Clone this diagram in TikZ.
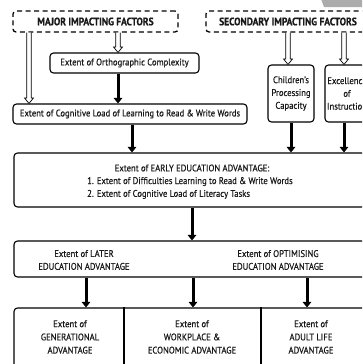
\documentclass[tikz,border=0pt]{standalone}
\usepackage{fontspec}
\setmainfont{PT Sans}[FakeStretch=0.9,FakeBold=0.5]
\newfontfamily\hdfont{PT Sans Bold}[FakeStretch=0.88,FakeBold=0.6]
\usetikzlibrary{arrows.meta,calc}
\begin{document}
\begin{tikzpicture}[x=1pt,y=-1pt,
  every node/.style={font=\fontsize{9.6}{12.8}\selectfont, text=black!90, inner sep=0pt},
  box/.style={draw, line width=1.1pt, rounded corners=3.5pt, align=center},
  dbox/.style={draw, line width=1.3pt, dash pattern=on 5pt off 3.5pt, rounded corners=3pt, font=\fontsize{10.8}{12}\hdfont},
  blk/.style={line width=3pt, -{Triangle[length=5.5pt,width=8.5pt]}},
  hollow/.style={line width=0.7pt, fill=white, to path={let \p1=(\tikztostart), \p2=(\tikztotarget) in
     (\x1-2.2pt,\y1) -- (\x1-2.2pt,\y2+5.5pt) -- (\x1-4.5pt,\y2+5.5pt) -- (\x1,\y2) -- (\x1+4.5pt,\y2+5.5pt) -- (\x1+2.2pt,\y2+5.5pt) -- (\x1+2.2pt,\y1)}}
]
\useasboundingbox (0,0) rectangle (362,364);
\clip (0,0) rectangle (362,364);
\fill[gray!65] (321,-1) -- (324,7) -- (363,7) -- (363,-1) -- cycle;

\node[dbox, minimum width=165pt, minimum height=21pt] (major) at (95.5,21.5) {MAJOR IMPACTING FACTORS};
\node[dbox, minimum width=164pt, minimum height=21pt] (second) at (288,21.5) {SECONDARY IMPACTING FACTORS};

\node[box, minimum width=149pt, minimum height=20pt] (ortho) at (124.5,63) {Extent of Orthographic Complexity};
\node[box, minimum width=234pt, minimum height=20pt] (cog) at (130,114) {Extent of Cognitive Load of Learning to Read \& Write Words};
\node[box, minimum width=46pt, minimum height=57pt] (child) at (291,93.5) {Children's\\Processing\\Capacity};
\node[box, minimum width=44pt, minimum height=57pt] (excel) at (347,93.5) {Excellence\\of\\Instruction};

\node[box, minimum width=356pt, minimum height=54pt] (early) at (192,180) {};
\node (earlytitle) at (192,168) {Extent of EARLY EDUCATION ADVANTAGE:};
\node[anchor=west, align=left] (earlylist) at (87,188) {1. Extent of Difficulties Learning to Read \& Write Words\\2. Extent of Cognitive Load of Literacy Tasks};

\node[box, minimum width=356pt, minimum height=36pt] (later) at (192,259) {};
\node[align=center] (latertxt) at (84,260) {Extent of LATER\\EDUCATION ADVANTAGE};
\node[align=center] (opttxt) at (278,260) {Extent of OPTIMISING\\EDUCATION ADVANTAGE};

\node[box, minimum width=356pt, minimum height=80pt] (row) at (192,348) {};
\draw[line width=1.1pt] (row.north -| 124,0) -- (row.south -| 124,0);
\draw[line width=1.1pt] (row.north -| 261,0) -- (row.south -| 261,0);
\node[align=center, font=\fontsize{9.6}{13.2}\selectfont] (gen) at (70,337) {Extent of\\GENERATIONAL\\ADVANTAGE};
\node[align=center, font=\fontsize{9.6}{13.2}\selectfont] (work) at (192,337) {Extent of\\WORKPLACE \&\\ECONOMIC ADVANTAGE};
\node[align=center, font=\fontsize{9.6}{13.2}\selectfont] (adult) at (311,337) {Extent of\\ADULT LIFE\\ADVANTAGE};

% hollow arrows
\draw[hollow] (major.south -| 29,0) to (cog.north -| 29,0);
\draw[hollow] (major.south -| 118,0) to (ortho.north -| 118,0);
\draw[hollow] (second.south -| 288,0) to (child.north -| 288,0);
\draw[hollow] (second.south -| 344,0) to (excel.north -| 344,0);

% black arrows
\draw[blk] (ortho.south -| 118,0) -- (cog.north -| 118,0);
\draw[blk] (cog.south -| 132,0) -- (early.north -| 132,0);
\draw[blk] (child.south) -- (early.north -| child.south);
\draw[blk] (excel.south -| 344,0) -- (early.north -| 344,0);
\draw[blk] (early.south) -- (later.north);
\draw[blk] (later.south -| 86,0) -- (row.north -| 86,0);
\draw[blk] (later.south -| 193,0) -- (row.north -| 193,0);
\draw[blk] (later.south -| 307,0) -- (row.north -| 307,0);
\end{tikzpicture}
\end{document}
